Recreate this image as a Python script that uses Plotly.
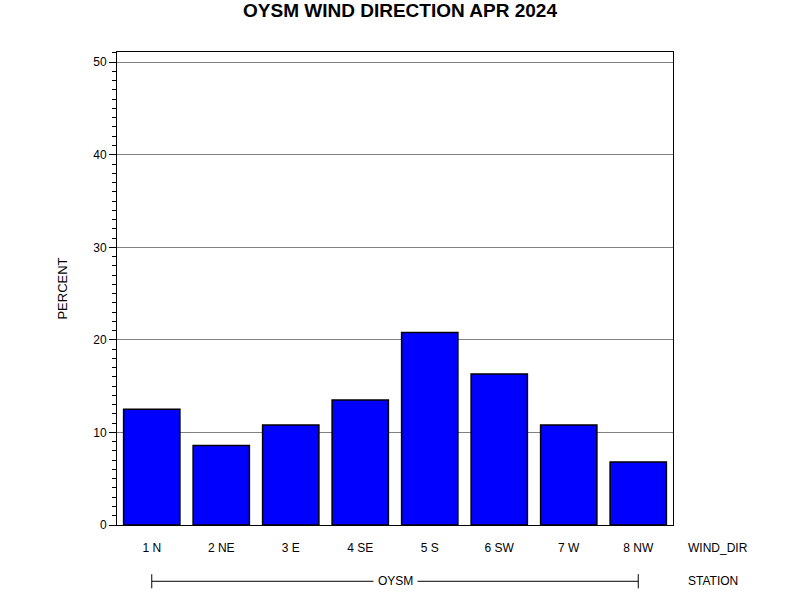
import plotly.graph_objects as go

# wind direction frequency, OYSM, April 2024
wind_dirs = ['1 N', '2 NE', '3 E', '4 SE', '5 S', '6 SW', '7 W', '8 NW']
percent = [12.5, 8.6, 10.8, 13.5, 20.8, 16.3, 10.8, 6.8]
station = 'OYSM'

fig = go.Figure()

fig.add_trace(go.Bar(
    x=wind_dirs,
    y=percent,
    marker=dict(color='#0000FF', line=dict(color='black', width=1.5)),
    showlegend=False,
))

# station group line under the categories
row_y = -0.119
fig.add_shape(type='line', xref='x', yref='paper', x0=wind_dirs[0], x1=wind_dirs[-1],
              y0=row_y, y1=row_y, line=dict(color='black', width=1))
for cap in (wind_dirs[0], wind_dirs[-1]):
    fig.add_shape(type='line', xref='x', yref='paper', x0=cap, x1=cap,
                  y0=row_y + 0.015, y1=row_y - 0.015, line=dict(color='black', width=1))

fig.add_annotation(x=3.5, y=row_y, xref='x', yref='paper', text=station,
                   showarrow=False, yanchor='middle', bgcolor='white', borderpad=4,
                   font=dict(size=12, color='black'))
fig.add_annotation(x=1.023, y=-0.048, xref='paper', yref='paper', text='WIND_DIR',
                   showarrow=False, xanchor='left', yanchor='middle',
                   font=dict(size=12, color='black'))
fig.add_annotation(x=1.023, y=row_y, xref='paper', yref='paper', text='STATION',
                   showarrow=False, xanchor='left', yanchor='middle',
                   font=dict(size=12, color='black'))

fig.update_layout(
    width=800, height=600,
    margin=dict(l=117, r=127, t=52, b=75),
    paper_bgcolor='white', plot_bgcolor='white',
    font=dict(family='Liberation Sans, Arial, sans-serif', size=12, color='black'),
    title=dict(text='<b>OYSM WIND DIRECTION APR 2024</b>', x=0.5, xanchor='center',
               y=0.982, yanchor='middle', font=dict(size=19)),
    bargap=0.19,
    xaxis=dict(showline=True, linecolor='black', linewidth=1, mirror=True,
               ticks='', showgrid=False, ticklabelstandoff=12),
    yaxis=dict(range=[0, 51.1], dtick=10, showline=True, linecolor='black', linewidth=1,
               mirror=True, ticks='outside', ticklen=7, tickcolor='black',
               showgrid=True, gridcolor='#808080', gridwidth=1, zeroline=False,
               minor=dict(dtick=1, ticks='outside', ticklen=4, tickcolor='black', showgrid=False),
               title=dict(text='PERCENT', standoff=22, font=dict(size=13))),
)

# drop the page's default body margin so the figure sits at the window's corner
fig.write_html("out.html", config={'displayModeBar': False},
               post_script="document.body.style.margin='0';")
